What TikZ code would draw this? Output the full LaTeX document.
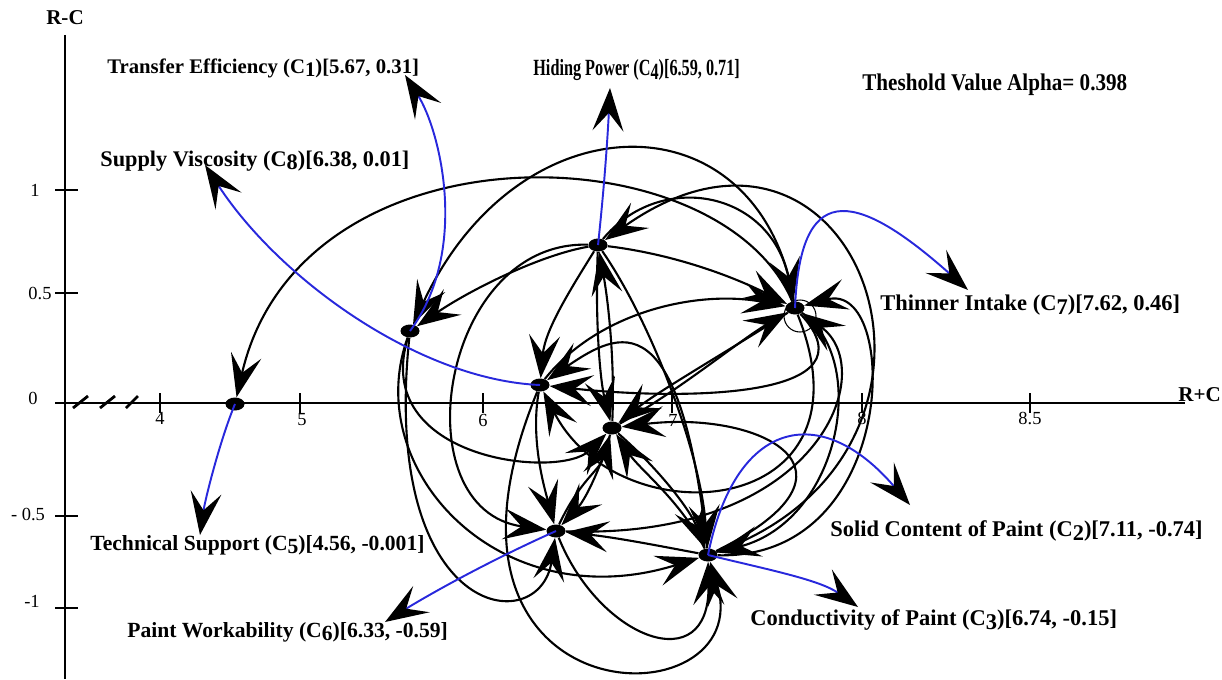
\documentclass[tikz,border=0pt]{standalone}
\usepackage{fontspec}
\setmainfont{Liberation Serif}
\usetikzlibrary{arrows.meta,shapes.geometric}
\newcommand\Csub[1]{C\raisebox{-0.35ex}{#1}}
\begin{document}
\begin{tikzpicture}[x=0.02cm,y=-0.02cm,
  dot/.style={ellipse,fill=black,minimum width=0.38cm,minimum height=0.26cm,inner sep=0pt},
  edge/.style={line width=1.2pt,-{Stealth[length=0.86cm,width=0.62cm,inset=0.36cm]}},
  blueedge/.style={line width=1.1pt,draw={rgb,255:red,40;green,40;blue,220},-{Stealth[length=0.86cm,width=0.62cm,inset=0.36cm,color=black]}},
  lbl/.style={anchor=west,inner sep=0pt},
  tick/.style={font=\fontsize{10.5}{12}\selectfont,inner sep=0pt}
]
\useasboundingbox (0,0) rectangle (1222,679);
% axes
\draw[line width=1.7pt] (65,35) -- (65,679);
\draw[line width=0.85pt] (65,403) -- (1185,403);
\foreach \yy in {190,293,403,516,608}{
  \draw[line width=1.6pt] (55,\yy) -- (78,\yy);
}
\node[tick] (y1) at (35,190) {1};
\node[tick] (y05) at (40,293) {0.5};
\node[tick] (y0) at (33,398) {0};
\node[tick] (ym05) at (28,514) {- 0.5};
\node[tick] (ym1) at (32,601) {-1};
\foreach \xx in {160,300,483,672,862,1030}{
  \draw[line width=0.9pt] (\xx,393) -- (\xx,413);
}
\node[tick] (x4) at (160,418) {4};
\node[tick] (x5) at (302,420) {5};
\node[tick] (x6) at (483,420) {6};
\node[tick] (x7) at (673,420) {7};
\node[tick] (x8) at (862,418) {8};
\node[tick] (x85) at (1030,418) {8.5};
\draw[line width=1.6pt] (73,408) -- (88,396);
\draw[line width=1.6pt] (100,408) -- (115,396);
\draw[line width=1.6pt] (126,408) -- (138,396);
\node[font=\fontsize{12}{14}\selectfont\bfseries,inner sep=0pt] (rc) at (65,18) {R-C};
\node[font=\fontsize{12}{14}\selectfont\bfseries,inner sep=0pt,anchor=west] (rpc) at (1178,395) {R+C};
% nodes
\node[dot] (A) at (410,331) {};
\node[dot] (B) at (598,245) {};
\node[dot] (G) at (795,308) {};
\node[dot] (H) at (540,385) {};
\node[dot] (X) at (612,428) {};
\node[dot] (E) at (235,404) {};
\node[dot] (F) at (556,531) {};
\node[dot] (D) at (708,555) {};
\draw[line width=0.6pt] (800,316) circle (16);
% black edges
\draw[edge] (G) .. controls (720,130) and (300,120) .. (E);
\draw[edge] (G) .. controls (760,95) and (520,95) .. (A);
\draw[edge] (B) .. controls (540,255) and (470,290) .. (A);
\draw[edge] (X) .. controls (615,360) and (608,300) .. (B);
\draw[edge] (D) .. controls (1000,450) and (860,60) .. (B);
\draw[edge] (B) .. controls (680,255) and (740,280) .. (G);
\draw[edge] (B) .. controls (660,170) and (770,190) .. (G);
\draw[edge] (H) .. controls (600,310) and (700,290) .. (G);
\draw[edge] (X) .. controls (680,390) and (740,340) .. (G);
\draw[edge] (F) .. controls (820,540) and (880,370) .. (G);
\draw[edge] (D) .. controls (900,560) and (900,280) .. (G);
\draw[edge] (B) .. controls (570,290) and (545,330) .. (H);
\draw[edge] (G) .. controls (880,400) and (680,400) .. (H);
\draw[edge] (D) .. controls (680,300) and (620,330) .. (H);
\draw[edge] (G) .. controls (880,520) and (620,540) .. (H);
\draw[edge] (B) .. controls (595,320) and (600,380) .. (X);
\draw[edge] (G) .. controls (730,350) and (660,390) .. (X);
\draw[edge] (A) .. controls (370,460) and (560,480) .. (X);
\draw[edge] (D) .. controls (880,470) and (760,410) .. (X);
\draw[edge] (F) .. controls (580,480) and (600,470) .. (X);
\draw[edge] (D) .. controls (680,500) and (640,470) .. (X);
\draw[edge] (B) .. controls (440,240) and (400,510) .. (F);
\draw[edge] (H) .. controls (530,440) and (545,490) .. (F);
\draw[edge] (X) .. controls (600,470) and (585,500) .. (F);
\draw[edge] (D) .. controls (670,548) and (620,538) .. (F);
\draw[edge] (A) .. controls (380,620) and (540,640) .. (F);
\draw[edge] (A) .. controls (360,470) and (500,620) .. (D);
\draw[edge] (H) .. controls (400,725) and (760,725) .. (D);
\draw[edge] (F) .. controls (600,640) and (710,680) .. (D);
\draw[edge] (G) .. controls (870,360) and (840,520) .. (D);
\draw[edge] (B) .. controls (650,320) and (700,450) .. (D);
\draw[edge] (X) .. controls (660,470) and (690,510) .. (D);
% label tips
\coordinate (te) at (405,75);
\coordinate (hp) at (610,88);
\coordinate (ti) at (968,290);
\coordinate (sv) at (205,165);
\coordinate (ts) at (200,535);
\coordinate (pw) at (385,622);
\coordinate (cp) at (858,607);
\coordinate (sc) at (910,505);
\draw[blueedge] (A.center) .. controls (470,250) and (440,130) .. (te);
\draw[blueedge] (B.center) .. controls (605,180) and (608,130) .. (hp);
\draw[blueedge] (G.center) .. controls (800,185) and (850,185) .. (ti);
\draw[blueedge] (H.center) .. controls (420,380) and (280,280) .. (sv);
\draw[blueedge] (E.center) .. controls (220,440) and (205,500) .. (ts);
\draw[blueedge] (F.center) .. controls (480,565) and (420,600) .. (pw);
\draw[blueedge] (D.center) .. controls (770,570) and (820,580) .. (cp);
\draw[blueedge] (D.center) .. controls (735,420) and (820,400) .. (sc);
% texts
\node[lbl,font=\fontsize{11.8}{14}\selectfont\bfseries] (tTE) at (107,68) {Transfer Efficiency (\Csub{1})[5.67, 0.31]};
\node[lbl,font=\fontsize{13.2}{14}\selectfont\bfseries] (tHP) at (533,70) {\scalebox{0.7}[1]{Hiding Power (\Csub{4})[6.59, 0.71]}};
\node[lbl,font=\fontsize{12.4}{14}\selectfont\bfseries] (tTH) at (862,85) {\scalebox{0.97}[1.1]{Theshold Value Alpha= 0.398}};
\node[lbl,font=\fontsize{12.7}{14}\selectfont\bfseries] (tSV) at (100,161) {Supply Viscosity (\Csub{8})[6.38, 0.01]};
\node[lbl,font=\fontsize{12.8}{14}\selectfont\bfseries] (tTI) at (880,305) {Thinner Intake (\Csub{7})[7.62, 0.46]};
\node[lbl,font=\fontsize{12.8}{14}\selectfont\bfseries] (tSC) at (830,531) {Solid Content of Paint (\Csub{2})[7.11, -0.74]};
\node[lbl,font=\fontsize{12.3}{14}\selectfont\bfseries] (tTS) at (90,545) {Technical Support (\Csub{5})[4.56, -0.001]};
\node[lbl,font=\fontsize{12.8}{14}\selectfont\bfseries] (tCP) at (750,620) {Conductivity of Paint (\Csub{3})[6.74, -0.15]};
\node[lbl,font=\fontsize{12.3}{14}\selectfont\bfseries] (tPW) at (127,632) {Paint Workability (\Csub{6})[6.33, -0.59]};
\end{tikzpicture}
\end{document}
